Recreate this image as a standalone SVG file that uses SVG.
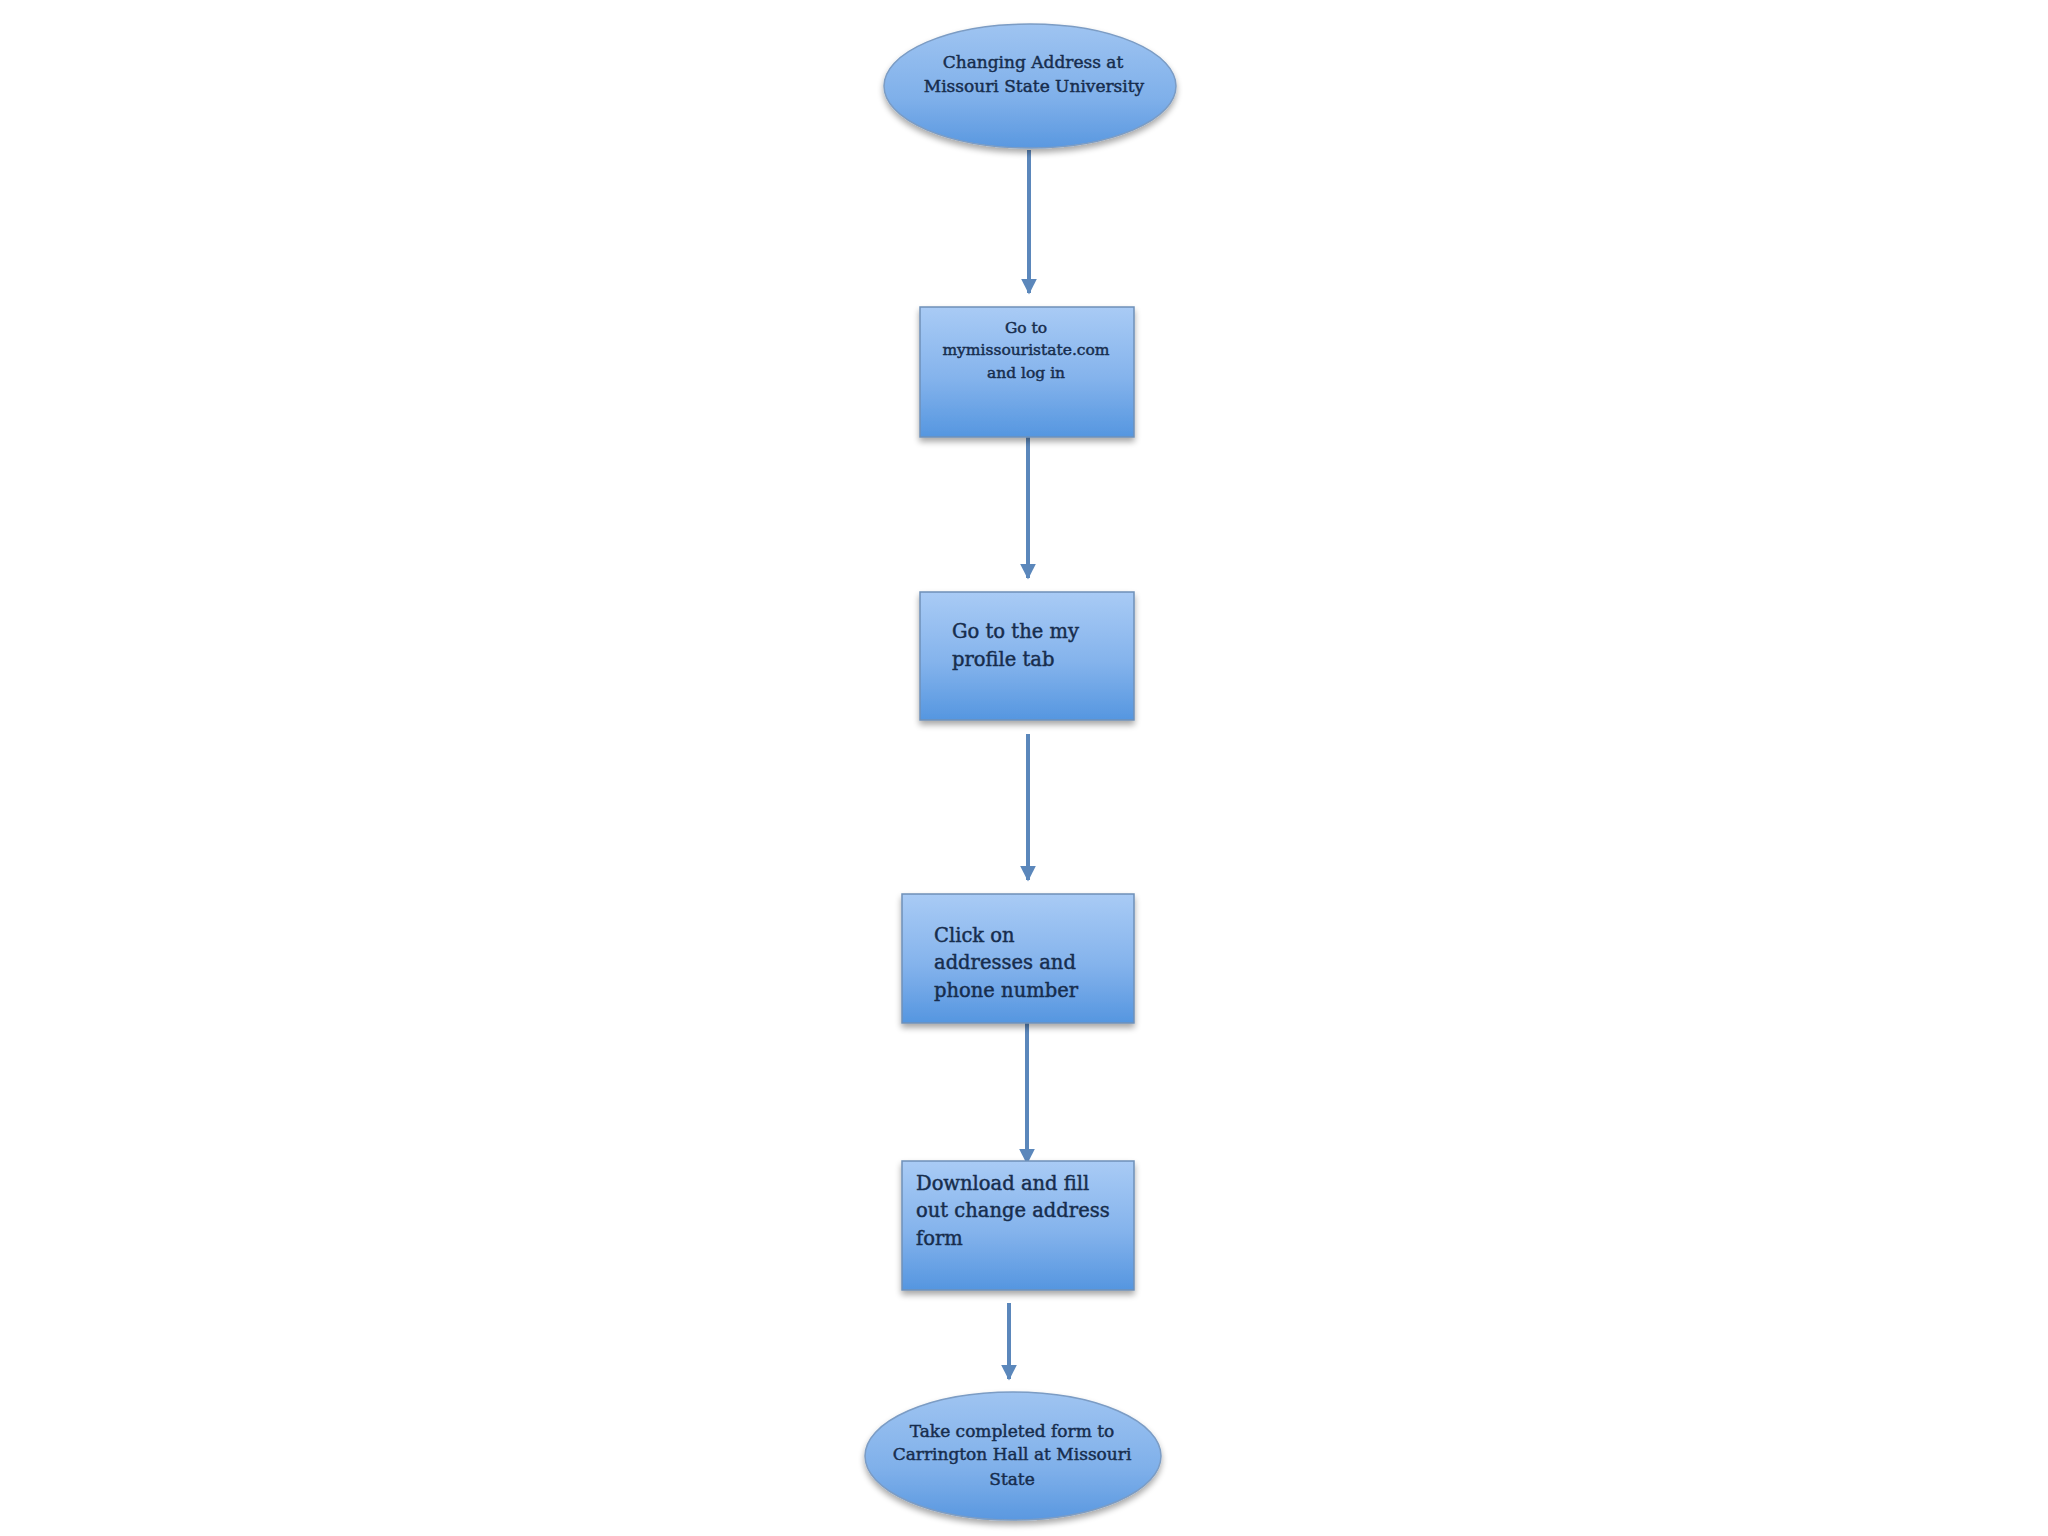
<svg xmlns="http://www.w3.org/2000/svg" width="2048" height="1536" viewBox="0 0 2048 1536">
<defs>
<linearGradient id="boxGrad" x1="0" y1="0" x2="0" y2="1">
<stop offset="0" stop-color="#a9cbf5"/>
<stop offset="0.55" stop-color="#84b3ec"/>
<stop offset="1" stop-color="#5596e0"/>
</linearGradient>
<linearGradient id="ellGrad" x1="0" y1="0" x2="0" y2="1">
<stop offset="0" stop-color="#9fc4f1"/>
<stop offset="0.6" stop-color="#7fb0ea"/>
<stop offset="1" stop-color="#5a98e0"/>
</linearGradient>
<filter id="shadow" x="-10%" y="-10%" width="120%" height="130%">
<feGaussianBlur in="SourceAlpha" stdDeviation="3"/>
<feOffset dx="0" dy="4" result="b"/>
<feComponentTransfer><feFuncA type="linear" slope="0.35"/></feComponentTransfer>
<feMerge><feMergeNode/><feMergeNode in="SourceGraphic"/></feMerge>
</filter>
<marker id="arrow" viewBox="0 0 10 10" refX="9" refY="5" markerWidth="4" markerHeight="4" orient="auto" markerUnits="strokeWidth">
<path d="M0,0 L10,5 L0,10 z" fill="#5b87bb"/>
</marker>
</defs>
<style>
.shape{fill:url(#boxGrad);stroke:#6f90b8;stroke-width:1.5;filter:url(#shadow)}
.ell{fill:url(#ellGrad);stroke:#7b9cc4;stroke-width:1.5;filter:url(#shadow)}
.t{font-family:"DejaVu Serif","Liberation Serif",serif;fill:#172d4d;stroke:#172d4d;stroke-width:0.45}
.c{text-anchor:middle}
.conn{stroke:#5b87bb;stroke-width:4;fill:none;marker-end:url(#arrow)}
</style>
<rect width="2048" height="1536" fill="#ffffff"/>
<g id="connectors">
<line class="conn" x1="1029" y1="150" x2="1029" y2="293"/>
<line class="conn" x1="1028" y1="437" x2="1028" y2="578"/>
<line class="conn" x1="1028" y1="734" x2="1028" y2="880"/>
<line class="conn" x1="1027" y1="1023" x2="1027" y2="1163"/>
<line class="conn" x1="1009" y1="1303" x2="1009" y2="1379"/>
</g>
<g id="start">
<ellipse class="ell" cx="1030" cy="86" rx="146" ry="62"/>
<text class="t c" x="1033" y="68" font-size="17">Changing Address at</text>
<text class="t c" x="1034" y="92" font-size="17">Missouri State University</text>
</g>
<g id="step1">
<rect class="shape" x="920" y="307" width="214" height="130"/>
<text class="t c" x="1026" y="333" font-size="15.5">Go to</text>
<text class="t c" x="1026" y="355" font-size="15.5">mymissouristate.com</text>
<text class="t c" x="1026" y="378" font-size="15.5">and log in</text>
</g>
<g id="step2">
<rect class="shape" x="920" y="592" width="214" height="128"/>
<text class="t" x="952" y="638" font-size="19.5">Go to the my</text>
<text class="t" x="952" y="666" font-size="19.5">profile tab</text>
</g>
<g id="step3">
<rect class="shape" x="902" y="894" width="232" height="129"/>
<text class="t" x="934" y="942" font-size="19.5">Click on</text>
<text class="t" x="934" y="969" font-size="19.5">addresses and</text>
<text class="t" x="934" y="997" font-size="19.5">phone number</text>
</g>
<g id="step4">
<rect class="shape" x="902" y="1161" width="232" height="129"/>
<text class="t" x="916" y="1190" font-size="19.5">Download and fill</text>
<text class="t" x="916" y="1217" font-size="19.5">out change address</text>
<text class="t" x="916" y="1245" font-size="19.5">form</text>
</g>
<g id="end">
<ellipse class="ell" cx="1013" cy="1456" rx="148" ry="64"/>
<text class="t c" x="1012" y="1437" font-size="17">Take completed form to</text>
<text class="t c" x="1012" y="1460" font-size="17">Carrington Hall at Missouri</text>
<text class="t c" x="1012" y="1485" font-size="17">State</text>
</g>
</svg>
